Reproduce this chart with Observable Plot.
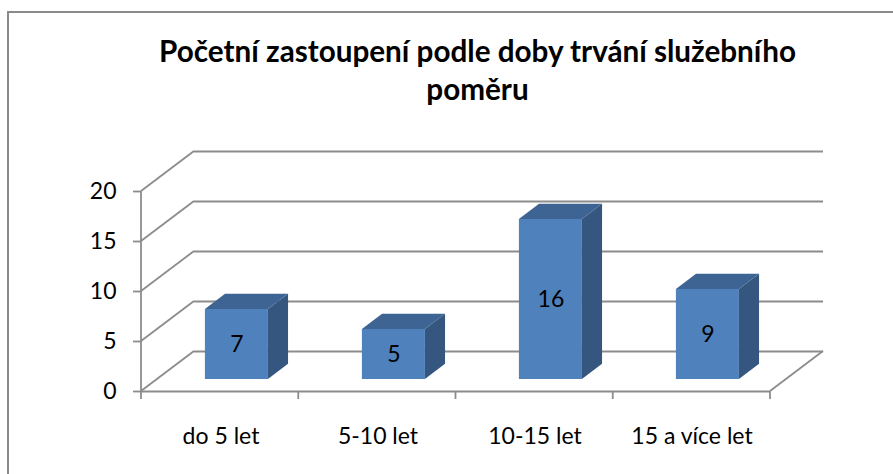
<!DOCTYPE html>
<html>
<head>
<meta charset="utf-8">
<script src="https://cdn.jsdelivr.net/npm/d3@7"></script>
<script src="https://cdn.jsdelivr.net/npm/@observablehq/plot@0.6"></script>
<style>
  html, body { margin: 0; padding: 0; background: #fff; }
  #wrap { position: relative; width: 893px; height: 474px; overflow: hidden; background: #fff;
          font-family: Lato, "Open Sans", "DejaVu Sans", sans-serif; }
  #frame { position: absolute; left: 7px; top: 11px; width: 1000px; height: 1000px;
           border-left: 2px solid #8a8a8a; border-top: 2px solid #8a8a8a; }
  .tline { position: absolute; left: 0; width: 955px; text-align: center; font-weight: bold;
           line-height: 1; white-space: nowrap; color: #000; }
  #chart { position: absolute; left: 0; top: 0; }
</style>
</head>
<body>
<div id="wrap">
  <div id="frame"></div>
  <div id="chart"></div>
</div>
<script>
// ---- data ----
const categories = ["do 5 let", "5-10 let", "10-15 let", "15 a více let"];
const counts = [7, 5, 16, 9];
const yTicks = [0, 5, 10, 15, 20];
const titleLines = ["Početní zastoupení podle doby trvání služebního", "poměru"];

// ---- style ----
const grid = "#8c8c8c";
const frontFill = "#4F81BD";
const sideFill = "#35577F";
const topFill = "#3D6493";
const FONT = 'Lato, "Open Sans", sans-serif';
const DX = 53, DY = -40;        // depth of the 3D box in pixels
const BF = 0.3, BB = 0.68;      // bar front / back as fraction of depth
const INSET = 47;

const data = categories.map((c, i) => ({category: c, value: counts[i]}));

// title, sized to the reference width
const cv = document.createElement("canvas").getContext("2d");
cv.font = "bold 100px " + FONT;
const tSize = 100 * 638 / cv.measureText(titleLines[0]).width;
const wrap = document.getElementById("wrap");
titleLines.forEach((t, i) => {
  const d = document.createElement("div");
  d.className = "tline";
  d.textContent = t;
  d.style.fontSize = tSize + "px";
  const baseline = 62 + i * 38;
  d.style.top = (baseline - 0.89 * tSize) + "px";
  wrap.appendChild(d);
});

function bandInfo(x) {
  const bw = typeof x.bandwidth === "function" ? x.bandwidth()
           : (typeof x.bandwidth === "number" ? x.bandwidth : x(categories[1]) - x(categories[0]));
  return bw;
}

// perspective wall lines, axis line and category boundary ticks
function wallMark(index, scales, values, dimensions) {
  const {y} = scales;
  const {width, marginLeft, marginRight} = dimensions;
  const x0 = marginLeft, x1 = width - marginRight;
  const g = d3.create("svg:g").attr("fill", "none").attr("stroke", grid).attr("stroke-width", 1.8);
  for (const t of yTicks) {
    g.append("line").attr("x1", x0).attr("y1", y(t)).attr("x2", x0 + DX).attr("y2", y(t) + DY);
  }
  g.append("line").attr("x1", x1).attr("y1", y(0)).attr("x2", x1 + DX).attr("y2", y(0) + DY);
  g.append("line").attr("x1", x0).attr("y1", y(0)).attr("x2", x0).attr("y2", y(yTicks[yTicks.length - 1]));
  const bw = (x1 - x0) / categories.length;
  for (let i = 0; i <= categories.length; i++) {
    const xx = x0 + i * bw;
    g.append("line").attr("x1", xx).attr("y1", y(0)).attr("x2", xx).attr("y2", y(0) + 8);
  }
  return g.node();
}

// side and top faces of the bars
function barDepth(index, scales, values, dimensions) {
  const {x, y} = scales;
  const bw = bandInfo(x);
  const ox = DX * BF, oy = DY * BF;
  const ddx = DX * (BB - BF), ddy = DY * (BB - BF);
  const g = d3.create("svg:g");
  for (const d of data) {
    const l = x(d.category) + INSET + ox, r = x(d.category) + bw - INSET + ox;
    const t = y(d.value) + oy, b = y(0) + oy;
    g.append("path").attr("fill", sideFill)
      .attr("d", `M${r},${t}L${r + ddx},${t + ddy}L${r + ddx},${b + ddy}L${r},${b}Z`);
    g.append("path").attr("fill", topFill)
      .attr("d", `M${l},${t}L${l + ddx},${t + ddy}L${r + ddx},${t + ddy}L${r},${t}Z`);
  }
  return g.node();
}

const chart = Plot.plot({
  width: 893,
  height: 474,
  marginLeft: 141,
  marginRight: 123,
  marginTop: 191,
  marginBottom: 83,
  style: {fontFamily: FONT, background: "transparent", overflow: "visible", color: "#000"},
  x: {domain: categories, padding: 0},
  y: {domain: [0, 20]},
  marks: [
    Plot.ruleY(yTicks, {dx: DX, dy: DY, stroke: grid, strokeWidth: 1.8}),
    wallMark,
    Plot.ruleY([0], {stroke: grid, strokeWidth: 1.8}),
    Plot.axisY({ticks: yTicks, tickSize: 8, tickPadding: 17, stroke: grid, strokeWidth: 1.8,
                fill: "#000", fontSize: 23, label: null}),
    Plot.axisX({tickSize: 0, tickPadding: 36, fill: "#000", fontSize: 23, label: null}),
    Plot.barY(data, {x: "category", y: "value", fill: frontFill, insetLeft: INSET, insetRight: INSET,
                     dx: DX * BF, dy: DY * BF}),
    barDepth,
    Plot.text(data, {x: "category", y: d => d.value / 2, text: d => String(d.value),
                     dx: DX * BF, dy: DY * BF, fill: "#000", fontSize: 23})
  ]
});
document.getElementById("chart").appendChild(chart);
</script>
</body>
</html>
